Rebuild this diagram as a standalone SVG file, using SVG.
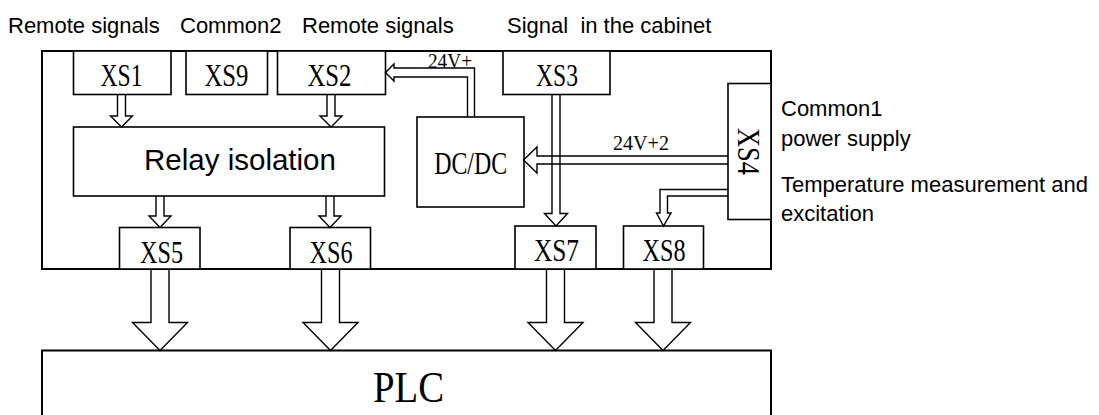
<svg xmlns="http://www.w3.org/2000/svg" width="1099" height="415" viewBox="0 0 1099 415">
<style>
.box{fill:#fff;stroke:#000;stroke-width:1.6}
.frame{fill:none;stroke:#000;stroke-width:2}
.arr{fill:none;stroke:#000;stroke-width:1.4;stroke-linejoin:miter}
.lbl{font-family:"Liberation Sans",Arial,sans-serif;font-size:22px;fill:#000}
.xs{font-family:"Liberation Serif","Times New Roman",serif;font-size:31px;fill:#000;text-anchor:middle}
.v{font-family:"Liberation Serif","Times New Roman",serif;font-size:20px;fill:#000}
</style>
<rect width="1099" height="415" fill="#fff"/>
<g id="labels">
<text class="lbl" x="8" y="33">Remote signals</text>
<text class="lbl" x="180" y="33">Common2</text>
<text class="lbl" x="302" y="33">Remote signals</text>
<text class="lbl" x="507" y="33" xml:space="preserve">Signal  in the cabinet</text>
<text class="lbl" x="781" y="116">Common1</text>
<text class="lbl" x="781" y="146">power supply</text>
<text class="lbl" x="781" y="192">Temperature measurement and</text>
<text class="lbl" x="781" y="221">excitation</text>
</g>
<g id="cabinet">
<rect class="frame" x="42" y="51" width="729" height="218"/>
</g>
<g id="XS1"><rect class="box" x="73.5" y="51" width="97.5" height="43.5"/><text class="xs" x="121.5" y="86" textLength="42" lengthAdjust="spacingAndGlyphs">XS1</text></g>
<g id="XS9"><rect class="box" x="186" y="51" width="81.5" height="43.5"/><text class="xs" x="226.5" y="86" textLength="44" lengthAdjust="spacingAndGlyphs">XS9</text></g>
<g id="XS2"><rect class="box" x="277.5" y="51" width="108" height="43.5"/><text class="xs" x="329.5" y="86" textLength="44" lengthAdjust="spacingAndGlyphs">XS2</text></g>
<g id="XS3"><rect class="box" x="503" y="51" width="107" height="43.5"/><text class="xs" x="557" y="86" textLength="42" lengthAdjust="spacingAndGlyphs">XS3</text></g>
<g id="XS4"><rect class="box" x="728" y="83.5" width="43" height="136"/><text class="xs" transform="translate(738,151.5) rotate(90)" x="0" y="0" textLength="47" lengthAdjust="spacingAndGlyphs">XS4</text></g>
<g id="relay"><rect class="box" x="73.5" y="127" width="311" height="69"/><text class="lbl" x="240" y="169.5" style="font-size:29.5px;text-anchor:middle">Relay isolation</text></g>
<g id="dcdc"><rect class="box" x="417" y="117" width="107" height="90"/><text class="xs" x="470.7" y="174" textLength="73" lengthAdjust="spacingAndGlyphs">DC/DC</text></g>
<g id="XS5"><rect class="box" x="119.5" y="227.5" width="80.5" height="41.5"/><text class="xs" x="161.5" y="262.5" textLength="43" lengthAdjust="spacingAndGlyphs">XS5</text></g>
<g id="XS6"><rect class="box" x="290" y="227.5" width="80.5" height="41.5"/><text class="xs" x="331" y="262.5" textLength="43" lengthAdjust="spacingAndGlyphs">XS6</text></g>
<g id="XS7"><rect class="box" x="515" y="226" width="81" height="43"/><text class="xs" x="556.5" y="261" textLength="45" lengthAdjust="spacingAndGlyphs">XS7</text></g>
<g id="XS8"><rect class="box" x="623.5" y="226" width="80" height="43"/><text class="xs" x="664" y="261" textLength="43" lengthAdjust="spacingAndGlyphs">XS8</text></g>
<g id="PLC"><path d="M42,415 V350.5 H771 V415" fill="#fff" stroke="#000" stroke-width="2"/><text class="xs" x="408.5" y="401.5" style="font-size:45px" textLength="71" lengthAdjust="spacingAndGlyphs">PLC</text></g>
<g id="connectors">
<path class="arr" d="M117.5,94.5 V116 H110.5 L121.5,127 L132.5,116 H125.5 V94.5"/>
<path class="arr" d="M327,94.5 V116 H320 L331,127 L342,116 H335 V94.5"/>
<path class="arr" d="M156,196 V216 H149 L160,227.5 L171,216 H164 V196"/>
<path class="arr" d="M326,196 V216 H319 L330,227.5 L341,216 H334 V196"/>
<path class="arr" d="M552,94.5 V213.5 H544.5 L556,226 L567.5,213.5 H560 V94.5"/>
<path class="arr" d="M467.5,117 V77 H394 V81 L385.5,72.5 L394,64 V68 H474.5 V117"/>
<path class="arr" d="M728,156 H537 V147 L523.5,160 L537,173 V164 H728"/>
<path class="arr" d="M728,189.5 H660 V213 H656.5 L663.5,226 L671,213 H667.5 V196 H728"/>
<path class="arr" d="M151,269 V322.5 H132.5 L160,350.5 L187.5,322.5 H169 V269"/>
<path class="arr" d="M321.5,269 V322.5 H303 L330.5,350.5 L358,322.5 H339.5 V269"/>
<path class="arr" d="M546.5,269 V322.5 H528 L555.5,350.5 L583,322.5 H564.5 V269"/>
<path class="arr" d="M654,269 V322.5 H635.5 L663,350.5 L690.5,322.5 H672 V269"/>
<text class="v" x="428" y="67.5" textLength="44" lengthAdjust="spacingAndGlyphs">24V+</text>
<text class="v" x="613" y="150" textLength="56" lengthAdjust="spacingAndGlyphs">24V+2</text>
</g>
</svg>
